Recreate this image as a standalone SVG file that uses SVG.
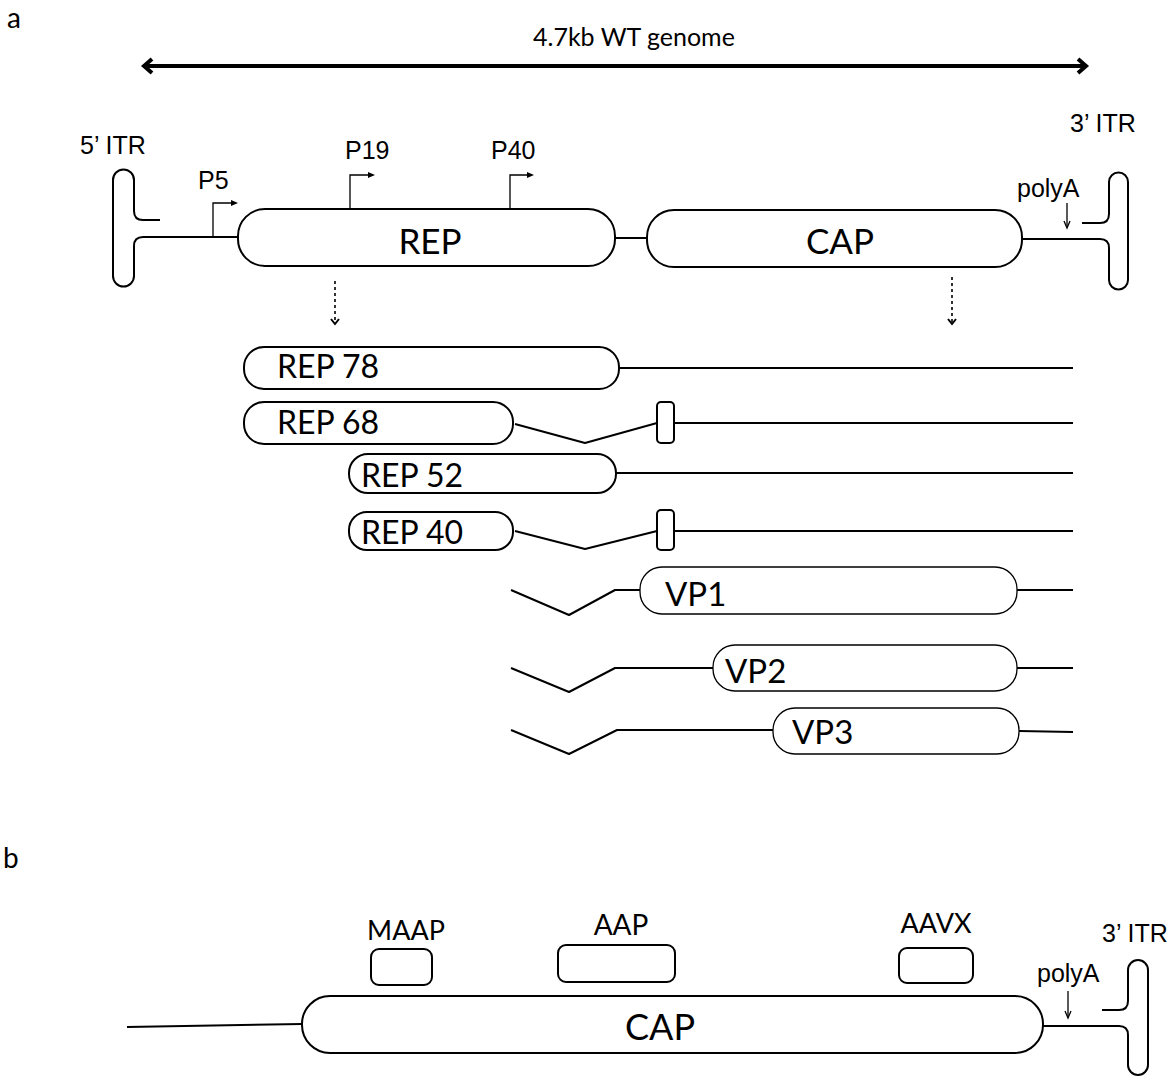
<svg xmlns="http://www.w3.org/2000/svg" width="1176" height="1078" viewBox="0 0 1176 1078">
<defs>
<style>
.ln{fill:none;stroke:#000;stroke-width:2;stroke-linejoin:round}
.thin{fill:none;stroke:#000;stroke-width:1.3}
.box{fill:#fff;stroke:#000;stroke-width:2}
.vbox{fill:#fff;stroke:#000;stroke-width:1.3}
.my{font-family:Lato,"Open Sans",sans-serif;fill:#000}
.ar{font-family:"Liberation Sans",Arial,sans-serif;fill:#000}
</style>
</defs>
<rect width="1176" height="1078" fill="#fff"/>

<!-- panel labels -->
<text class="my" x="7" y="28" font-size="28">a</text>
<text class="my" x="3" y="868" font-size="28">b</text>

<!-- connectors -->
<g id="connectors">
  <!-- genome length arrow -->
  <line x1="146" y1="66" x2="1084" y2="66" stroke="#000" stroke-width="4"/>
  <polyline points="152,59 144,66 152,73" fill="none" stroke="#000" stroke-width="4"/>
  <polyline points="1078,59 1086,66 1078,73" fill="none" stroke="#000" stroke-width="4"/>
  <!-- backbone a -->
  <line class="ln" x1="143" y1="237" x2="238" y2="237"/>
  <line class="ln" x1="615" y1="238" x2="647" y2="238"/>
  <line class="ln" x1="1022" y1="239" x2="1100" y2="239"/>
  <!-- promoter arrows -->
  <polyline class="thin" points="213,237 213,203 233,203"/>
  <polygon points="231,200 238,203 231,206"/>
  <polyline class="thin" points="350,209 350,175 370,175"/>
  <polygon points="368,172 375,175 368,178"/>
  <polyline class="thin" points="510,209 510,175 529,175"/>
  <polygon points="527,172 534,175 527,178"/>
  <!-- polyA arrow a -->
  <line class="thin" x1="1067" y1="203" x2="1067" y2="226"/>
  <polyline class="thin" points="1064,221 1067,228 1070,221"/>
  <!-- dashed arrows -->
  <line x1="335" y1="281" x2="335" y2="322" stroke="#000" stroke-width="1.6" stroke-dasharray="3,3"/>
  <polyline points="331,319 335,324 339,319" fill="none" stroke="#000" stroke-width="2"/>
  <line x1="952" y1="277" x2="952" y2="322" stroke="#000" stroke-width="1.6" stroke-dasharray="3,3"/>
  <polyline points="948,319 952,324 956,319" fill="none" stroke="#000" stroke-width="2"/>
  <!-- rep rows -->
  <line class="ln" x1="619" y1="368" x2="1073" y2="368"/>
  <polyline class="ln" points="515,424 585,443 657,423"/>
  <line class="ln" x1="674" y1="423" x2="1073" y2="423"/>
  <line class="ln" x1="616" y1="473" x2="1073" y2="473"/>
  <polyline class="ln" points="515,531 585,549 657,531"/>
  <line class="ln" x1="674" y1="531" x2="1073" y2="531"/>
  <!-- vp rows -->
  <polyline class="ln" points="511,590 569,615 615,590 640,590"/>
  <line class="ln" x1="1017" y1="590" x2="1073" y2="590"/>
  <polyline class="ln" points="511,668 569,692 615,668 713,668"/>
  <line class="ln" x1="1017" y1="668" x2="1073" y2="668"/>
  <polyline class="ln" points="511,730 569,754 617,730 773,730"/>
  <line class="ln" x1="1019" y1="731" x2="1073" y2="732"/>
  <!-- backbone b -->
  <line class="ln" x1="127" y1="1027" x2="302" y2="1024"/>
  <line class="ln" x1="1043" y1="1026" x2="1119" y2="1026"/>
  <line class="thin" x1="1068" y1="991" x2="1068" y2="1016"/>
  <polyline class="thin" points="1065,1011 1068,1018 1071,1011"/>
</g>

<!-- genome label -->
<text class="my" x="533" y="46" font-size="25">4.7kb WT genome</text>

<!-- ITRs -->
<g id="itr5">
  <path class="ln" d="M160,220 H143 Q134,220 134,211 V180 A10.5,10.5 0 0 0 113,180 V276 A10.5,10.5 0 0 0 134,276 V246 Q134,237 143,237"/>
  <text class="ar" x="80" y="154" font-size="25">5’ ITR</text>
</g>
<g id="itr3a">
  <path class="ln" d="M1082,223 H1100 Q1109,223 1109,214 V182 A9.5,9.5 0 0 1 1128,182 V280 A9.5,9.5 0 0 1 1109,280 V248 Q1109,239 1100,239"/>
  <text class="ar" x="1070" y="132" font-size="25">3’ ITR</text>
  <text class="ar" x="1017" y="197" font-size="25">polyA</text>
</g>

<!-- promoter labels -->
<g id="p5"><text class="ar" x="198" y="189" font-size="25">P5</text></g>
<g id="p19"><text class="ar" x="345" y="159" font-size="25">P19</text></g>
<g id="p40"><text class="ar" x="491" y="159" font-size="25">P40</text></g>

<!-- main genes -->
<g id="rep">
  <rect class="box" x="238" y="209" width="377" height="57" rx="27"/>
  <text class="my" x="430" y="254" font-size="35" text-anchor="middle">REP</text>
</g>
<g id="cap">
  <rect class="box" x="647" y="210" width="375" height="57" rx="27"/>
  <text class="my" x="840" y="254" font-size="35" text-anchor="middle">CAP</text>
</g>

<!-- rep products -->
<g id="rep78">
  <rect class="box" x="244" y="347" width="375" height="42" rx="20"/>
  <text class="my" x="277" y="378" font-size="32">REP 78</text>
</g>
<g id="rep68">
  <rect class="box" x="244" y="402" width="269" height="42" rx="20"/>
  <text class="my" x="277" y="434" font-size="32">REP 68</text>
  <rect class="box" x="657" y="402" width="17" height="41" rx="4" stroke-width="1.3"/>
</g>
<g id="rep52">
  <rect class="box" x="349" y="454" width="267" height="39" rx="19"/>
  <text class="my" x="361" y="487" font-size="32">REP 52</text>
</g>
<g id="rep40">
  <rect class="box" x="349" y="512" width="164" height="38" rx="18"/>
  <text class="my" x="361" y="544" font-size="32">REP 40</text>
  <rect class="box" x="657" y="510" width="17" height="40" rx="4" stroke-width="1.3"/>
</g>

<!-- vp products -->
<g id="vp1">
  <rect class="vbox" x="640" y="567" width="377" height="47" rx="22"/>
  <text class="my" x="665" y="606" font-size="33">VP1</text>
</g>
<g id="vp2">
  <rect class="vbox" x="713" y="645" width="304" height="46" rx="22"/>
  <text class="my" x="725" y="683" font-size="33">VP2</text>
</g>
<g id="vp3">
  <rect class="vbox" x="773" y="708" width="246" height="46" rx="22"/>
  <text class="my" x="792" y="744" font-size="33">VP3</text>
</g>

<!-- panel b -->
<g id="cap-b">
  <rect class="box" x="302" y="996" width="741" height="57" rx="28"/>
  <text class="my" x="660" y="1040" font-size="36" text-anchor="middle">CAP</text>
</g>
<g id="maap">
  <rect class="box" x="371" y="949" width="61" height="36" rx="8"/>
  <text class="my" x="406" y="940" font-size="27" text-anchor="middle">MAAP</text>
</g>
<g id="aap">
  <rect class="box" x="558" y="945" width="117" height="37" rx="8"/>
  <text class="my" x="621" y="935" font-size="28" text-anchor="middle">AAP</text>
</g>
<g id="aavx">
  <rect class="box" x="899" y="948" width="74" height="35" rx="8"/>
  <text class="my" x="936" y="933" font-size="27" text-anchor="middle">AAVX</text>
</g>
<g id="itr3b">
  <path class="ln" d="M1102,1010 H1119 Q1128,1010 1128,1001 V970 A10,10 0 0 1 1148,970 V1065 A10,10 0 0 1 1128,1065 V1035 Q1128,1026 1119,1026"/>
  <text class="ar" x="1102" y="942" font-size="25">3’ ITR</text>
  <text class="ar" x="1037" y="982" font-size="25">polyA</text>
</g>
</svg>
